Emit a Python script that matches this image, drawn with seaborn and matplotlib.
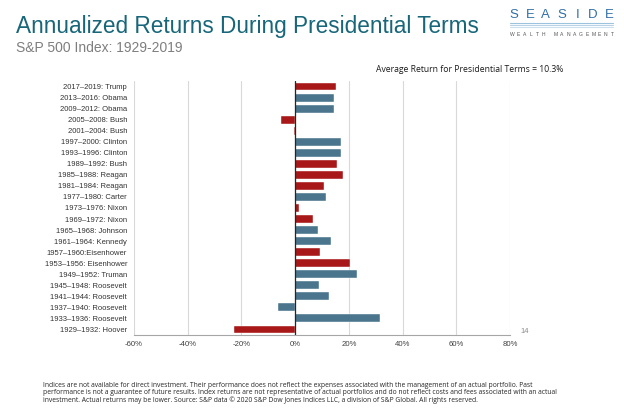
import seaborn as sns
import pandas as pd
import numpy as np
import matplotlib.pyplot as plt

# terms listed top to bottom as in the chart
terms = ["2017\u20132019: Trump", "2013\u20132016: Obama", "2009\u20132012: Obama",
         "2005\u20132008: Bush", "2001\u20132004: Bush", "1997\u20132000: Clinton",
         "1993\u20131996: Clinton", "1989\u20131992: Bush", "1985\u20131988: Reagan",
         "1981\u20131984: Reagan", "1977\u20131980: Carter", "1973\u20131976: Nixon",
         "1969\u20131972: Nixon", "1965\u20131968: Johnson", "1961\u20131964: Kennedy",
         "1957\u20131960:Eisenhower", "1953\u20131956: Eisenhower", "1949\u20131952: Truman",
         "1945\u20131948: Roosevelt", "1941\u20131944: Roosevelt", "1937\u20131940: Roosevelt",
         "1933\u20131936: Roosevelt", "1929\u20131932: Hoover"]
returns = [15.3, 14.3, 14.6, -5.1, -0.4, 17.1, 17.1, 15.6, 17.9, 10.7, 11.5, 1.6,
           6.6, 8.6, 13.5, 9.4, 20.6, 23.1, 8.7, 12.7, -6.3, 31.5, -22.7]
party = ["R", "D", "D", "R", "R", "D", "D", "R", "R", "R", "D", "R",
         "R", "D", "D", "R", "R", "D", "D", "D", "D", "D", "R"]
xticks = [-60, -40, -20, 0, 20, 40, 60, 80]

df = pd.DataFrame({"term": terms, "ret": returns, "party": party})

sns.set_style("white")
plt.rcParams['font.family'] = ['Liberation Sans', 'DejaVu Sans']

fig = plt.figure(figsize=(6.24, 4.13), dpi=100)
ax = fig.add_axes([134 / 624, 1 - 335 / 413, 376 / 624, 254 / 413])

pal = {"R": "#C00000", "D": "#3F7898"}
sns.barplot(data=df, x="ret", y="term", hue="party", palette=pal, dodge=False,
            width=0.72, edgecolor="white", linewidth=0.3, legend=False, ax=ax)

ax.set_xlim(-60, 80)
ax.set_ylim(22.5, -0.5)
ax.set_xticks(xticks)
ax.set_xticklabels([f"{t}%" for t in xticks], fontsize=5.6, color="#404040")
ax.tick_params(axis="y", labelsize=5.5, colors="#333333", length=0, pad=5)
ax.tick_params(axis="x", length=0, pad=4)
ax.set_xlabel("")
ax.set_ylabel("")
ax.grid(axis="x", color="#D9D9D9", linewidth=0.8)
ax.set_axisbelow(True)
for s in ["top", "right", "left"]:
    ax.spines[s].set_visible(False)
ax.spines["bottom"].set_color("#A6A6A6")
ax.spines["bottom"].set_linewidth(0.8)
ax.axvline(0, color="#262626", linewidth=0.9, zorder=5)

# titles
fig.text(16 / 624, 1 - 33 / 413, "Annualized Returns During Presidential Terms",
         fontsize=16.3, color="#17667A", va="baseline")
fig.text(16 / 624, 1 - 52 / 413, "S&P 500 Index: 1929-2019",
         fontsize=10, color="#7F7F7F", va="baseline")
fig.text(376 / 624, 1 - 72 / 413, "Average Return for Presidential Terms = 10.3%",
         fontsize=6.2, color="#1A1A1A", va="baseline", family=["Open Sans", "DejaVu Sans"])

# logo, letters spread out evenly
logo = "SEASIDE"
for i, ch in enumerate(logo):
    xx = 514 + i * (609 - 514) / (len(logo) - 1)
    fig.text(xx / 624, 1 - 18.5 / 413, ch, fontsize=9.5, color="#2F6FA8",
             ha="center", va="baseline")
for yy, c in [(22.5, "#9CC3DE"), (24.5, "#B9D4E8"), (26.5, "#CFE0EE")]:
    fig.add_artist(plt.Line2D([510 / 624, 613 / 624], [1 - yy / 413, 1 - yy / 413],
                              color=c, linewidth=0.8))
sub = "WEALTH MANAGEMENT"
for i, ch in enumerate(sub):
    xx = 512 + i * (612 - 512) / (len(sub) - 1)
    fig.text(xx / 624, 1 - 36.5 / 413, ch, fontsize=3.6, color="#555555",
             ha="center", va="baseline")

fig.text(520 / 624, 1 - 333 / 413, "14", fontsize=5.5, color="#8C8C8C", va="baseline")

foot = ("Indices are not available for direct investment. Their performance does not reflect the expenses associated with the management of an actual portfolio. Past\n"
        "performance is not a guarantee of future results. Index returns are not representative of actual portfolios and do not reflect costs and fees associated with an actual\n"
        "investment. Actual returns may be lower. Source: S&P data \u00a9 2020 S&P Dow Jones Indices LLC, a division of S&P Global. All rights reserved.")
fig.text(43 / 624, 1 - 382 / 413, foot, fontsize=4.9, color="#262626", va="top",
         linespacing=1.05, family=["Open Sans", "DejaVu Sans"])

fig.savefig("out.png", dpi=100)
